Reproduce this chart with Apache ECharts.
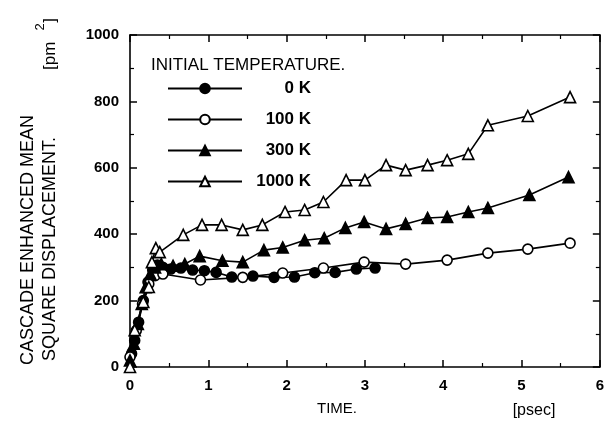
<!DOCTYPE html>
<html>
<head>
<meta charset="utf-8">
<script src="https://cdn.jsdelivr.net/npm/echarts@6/dist/echarts.min.js"></script>
<style>
  html, body { margin: 0; padding: 0; background: #fff; }
  #container { width: 607px; height: 443px; }
</style>
</head>
<body>
<div id="container"></div>
<script>
// readings of the figure: time [psec] and displacement [pm^2]
var names = ['0 K', '100 K', '300 K', '1000 K'];

var t0K = [0.02, 0.06, 0.11, 0.17, 0.23, 0.29, 0.35, 0.42, 0.52, 0.65, 0.8, 0.95, 1.1, 1.3, 1.57, 1.84, 2.1, 2.36, 2.62, 2.89, 3.13];
var v0K = [40, 80, 135, 200, 256, 292, 307, 300, 295, 298, 292, 290, 285, 271, 274, 270, 271, 284, 285, 295, 298];

var t100K = [0, 0.08, 0.16, 0.24, 0.32, 0.42, 0.9, 1.44, 1.95, 2.47, 2.99, 3.52, 4.05, 4.57, 5.08, 5.62];
var v100K = [30, 110, 190, 250, 275, 280, 262, 270, 283, 298, 316, 310, 322, 343, 355, 373];

var t300K = [0, 0.05, 0.1, 0.15, 0.2, 0.26, 0.32, 0.4, 0.55, 0.7, 0.89, 1.18, 1.44, 1.71, 1.95, 2.23, 2.48, 2.75, 2.99, 3.27, 3.52, 3.8, 4.05, 4.32, 4.57, 5.1, 5.6];
var v300K = [20, 70, 130, 190, 240, 280, 300, 310, 305, 310, 334, 320, 316, 352, 360, 382, 388, 419, 437, 416, 431, 449, 452, 467, 479, 518, 572];

var t1000K = [0, 0.06, 0.17, 0.24, 0.28, 0.33, 0.38, 0.68, 0.92, 1.17, 1.44, 1.69, 1.98, 2.23, 2.47, 2.76, 3.0, 3.27, 3.52, 3.8, 4.05, 4.32, 4.57, 5.08, 5.62];
var v1000K = [0, 111, 196, 241, 316, 358, 346, 398, 428, 428, 413, 428, 467, 473, 497, 563, 563, 608, 593, 608, 623, 642, 728, 756, 813];

var xTicks = [0, 1, 2, 3, 4, 5, 6];
var yTicks = [0, 200, 400, 600, 800, 1000];

function pairs(t, v) {
	var out = [];
	for (var i = 0; i < t.length; i++) out.push([t[i], v[i]]);
	return out;
}

var font = 'Liberation Sans, Arial, sans-serif';

function mkSeries(name, t, v, symbol, filled) {
	return {
		name: name,
		type: 'line',
		data: pairs(t, v),
		symbol: symbol,
		symbolSize: symbol == 'triangle' ? 11 : 10,
		showAllSymbol: true,
		lineStyle: { color: '#000', width: 1.6 },
		itemStyle: { color: filled ? '#000' : '#fff', borderColor: '#000', borderWidth: 1.6 },
		emphasis: { disabled: true },
		animation: false
	};
}

function axisBase(pos, min, max, interval, showLabel) {
	return {
		type: 'value',
		position: pos,
		min: min, max: max, interval: interval,
		axisLine: { show: true, onZero: false, lineStyle: { color: '#000', width: 1.6 } },
		axisTick: { show: true, inside: true, length: 7, lineStyle: { color: '#000', width: 1.5 } },
		minorTick: { show: true, splitNumber: 2, length: 4, lineStyle: { color: '#000', width: 1.2 } },
		splitLine: { show: false },
		axisLabel: {
			show: showLabel, color: '#000', fontSize: 15, fontFamily: font, fontWeight: 'bold', margin: 11,
			formatter: function (v) { return String(v); }
		}
	};
}

var chart = echarts.init(document.getElementById('container'));

var option = {
	backgroundColor: '#fff',
	animation: false,
	grid: { left: 130, right: 6, top: 35, bottom: 76, containLabel: false },
	xAxis: [
		axisBase('bottom', 0, 6, 1, true),
		axisBase('top', 0, 6, 1, false)
	],
	yAxis: [
		axisBase('left', 0, 1000, 200, true),
		axisBase('right', 0, 1000, 200, false)
	],
	title: {
		text: 'INITIAL TEMPERATURE.',
		left: 146, top: 52,
		textStyle: { color: '#000', fontSize: 17, fontWeight: 'normal', fontFamily: font }
	},
	legend: {
		data: names,
		orient: 'vertical',
		left: 162, top: 75,
		itemWidth: 74, itemHeight: 12,
		itemGap: 14,
		selectedMode: false,
		formatter: function (n) { return '{a|' + n + '}'; },
		textStyle: {
			color: '#000', fontFamily: font, fontSize: 17,
			rich: { a: { width: 64, align: 'right', fontSize: 17, fontWeight: 'bold', fontFamily: font, color: '#000' } }
		}
	},
	graphic: [
		{ type: 'text', x: 28, y: 240, rotation: Math.PI / 2,
		  style: { text: 'CASCADE ENHANCED MEAN', font: '18px ' + font, fill: '#000', textAlign: 'center', textVerticalAlign: 'middle' } },
		{ type: 'text', x: 50, y: 249, rotation: Math.PI / 2,
		  style: { text: 'SQUARE DISPLACEMENT.', font: '18px ' + font, fill: '#000', textAlign: 'center', textVerticalAlign: 'middle' } },
		{ type: 'text', x: 50, y: 44, rotation: Math.PI / 2,
		  style: { text: '[pm    ]', font: '17px ' + font, fill: '#000', textAlign: 'center', textVerticalAlign: 'middle' } },
		{ type: 'text', x: 40, y: 27, rotation: Math.PI / 2,
		  style: { text: '2', font: '13px ' + font, fill: '#000', textAlign: 'center', textVerticalAlign: 'middle' } },
		{ type: 'text', x: 337, y: 409,
		  style: { text: 'TIME.', font: '15px ' + font, fill: '#000', textAlign: 'center', textVerticalAlign: 'middle' } },
		{ type: 'text', x: 534, y: 411,
		  style: { text: '[psec]', font: '16px ' + font, fill: '#000', textAlign: 'center', textVerticalAlign: 'middle' } }
	],
	series: [
		mkSeries(names[0], t0K, v0K, 'circle', true),
		mkSeries(names[1], t100K, v100K, 'circle', false),
		mkSeries(names[2], t300K, v300K, 'triangle', true),
		mkSeries(names[3], t1000K, v1000K, 'triangle', false)
	]
};

chart.setOption(option);
window.addEventListener('resize', function () {
	chart.resize();
});
</script>
</body>
</html>
